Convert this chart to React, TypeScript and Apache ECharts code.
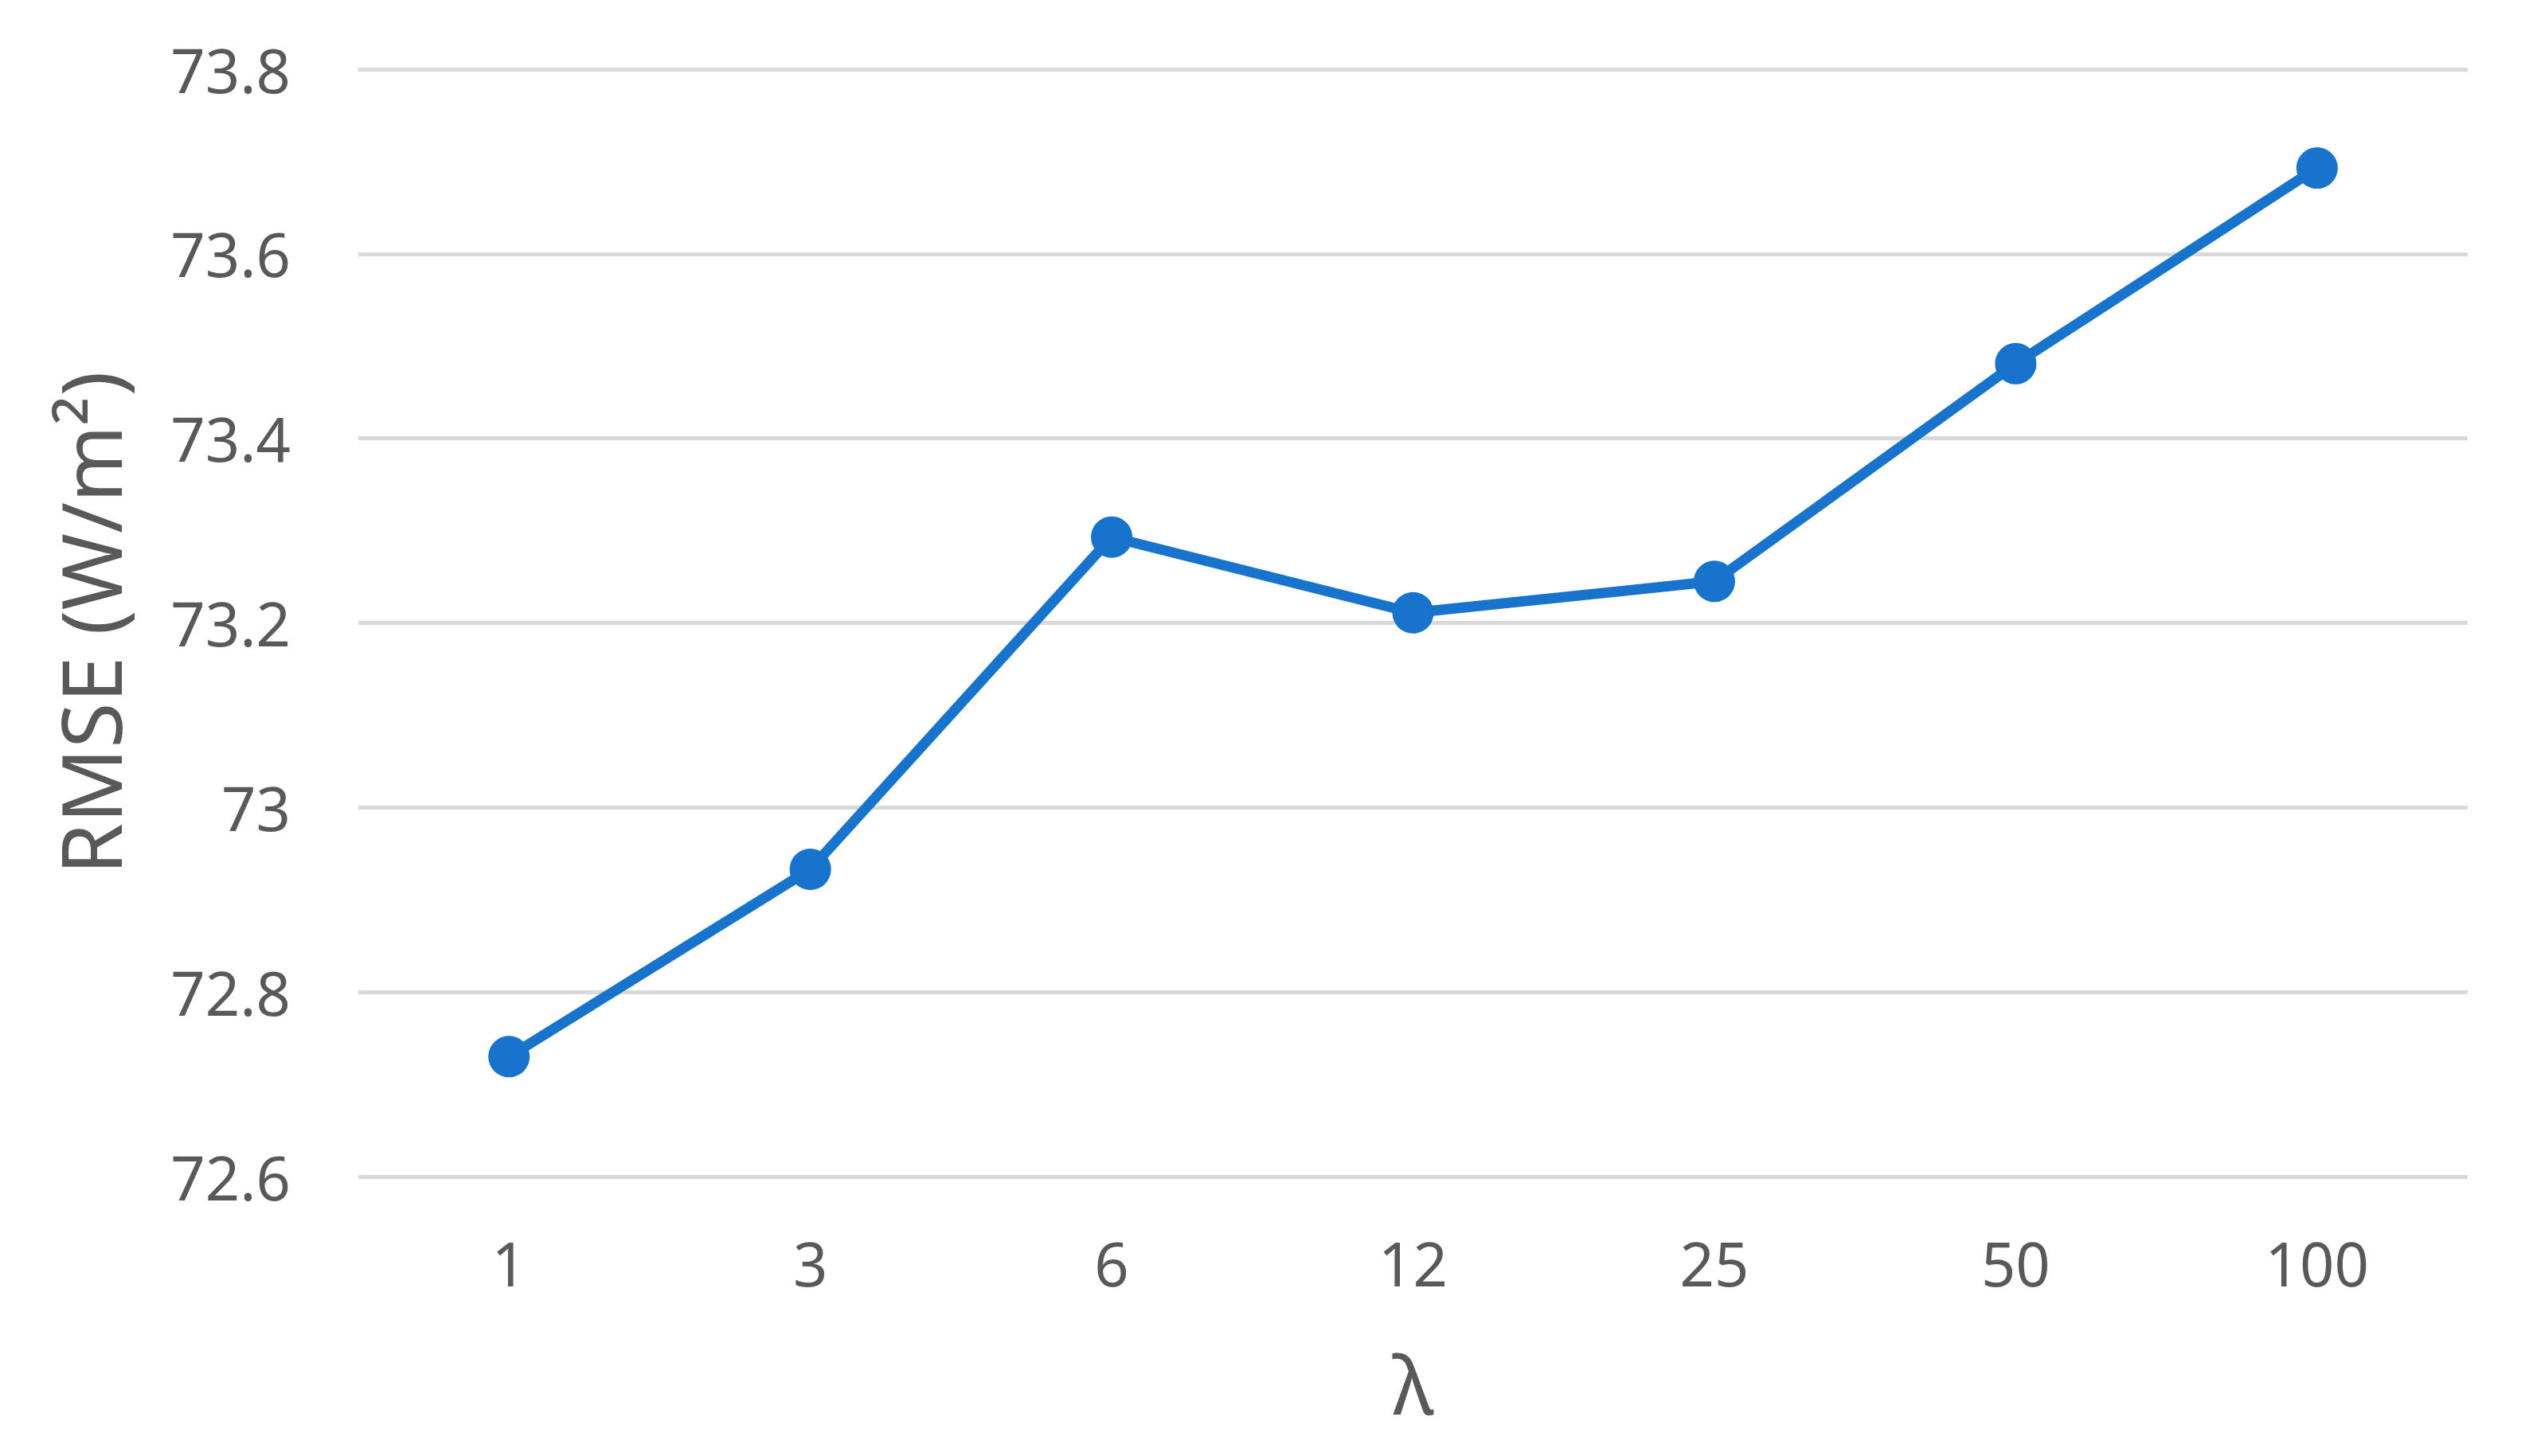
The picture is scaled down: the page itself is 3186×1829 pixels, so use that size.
import React, { useEffect, useRef } from "react";
import * as echarts from "echarts";

const categories = ["1", "3", "6", "12", "25", "50", "100"];
const rmseValues = [72.73, 72.933, 73.293, 73.211, 73.245, 73.481, 73.693];
const yMin = 72.6;
const yMax = 73.8;
const yStep = 0.2;
const xAxisTitle = "λ";
const yAxisTitle = "RMSE (W/m²)";

export default function App() {
  const ref = useRef<HTMLDivElement>(null);
  useEffect(() => {
    document.body.style.margin = "0";
    const chart = echarts.init(ref.current!, null, { renderer: "svg" });
    const font = "'Noto Sans', 'Open Sans', sans-serif";
    chart.setOption({
      animation: false,
      backgroundColor: "#ffffff",
      grid: { left: 450, right: 87, top: 87, bottom: 351, containLabel: false },
      xAxis: {
        type: "category",
        data: categories,
        boundaryGap: true,
        axisLine: { show: false },
        axisTick: { show: false },
        axisLabel: { color: "#595959", fontSize: 76, fontFamily: font, margin: 70 },
        name: xAxisTitle,
        nameLocation: "middle",
        nameGap: 210,
        nameTextStyle: { color: "#595959", fontSize: 100, fontFamily: font },
      },
      yAxis: {
        type: "value",
        min: yMin,
        max: yMax,
        interval: yStep,
        axisLine: { show: false },
        axisTick: { show: false },
        splitLine: { show: true, lineStyle: { color: "#d9d9d9", width: 5 } },
        axisLabel: {
          color: "#595959",
          fontSize: 76,
          fontFamily: font,
          margin: 85,
          padding: [0, 0, 12, 0],
          formatter: (v: number) => String(+v.toFixed(1)),
        },
        name: yAxisTitle,
        nameLocation: "middle",
        nameGap: 286,
        nameRotate: 90,
        nameTextStyle: { color: "#595959", fontSize: 104, fontFamily: font },
      },
      series: [
        {
          type: "line",
          data: rmseValues,
          symbol: "circle",
          symbolSize: 52,
          lineStyle: { color: "#1873cc", width: 13 },
          itemStyle: { color: "#1873cc" },
        },
      ],
    });
    return () => chart.dispose();
  }, []);
  return (
    <div
      ref={ref}
      style={{ position: "absolute", left: 0, top: 0, width: 3186, height: 1829 }}
    />
  );
}
